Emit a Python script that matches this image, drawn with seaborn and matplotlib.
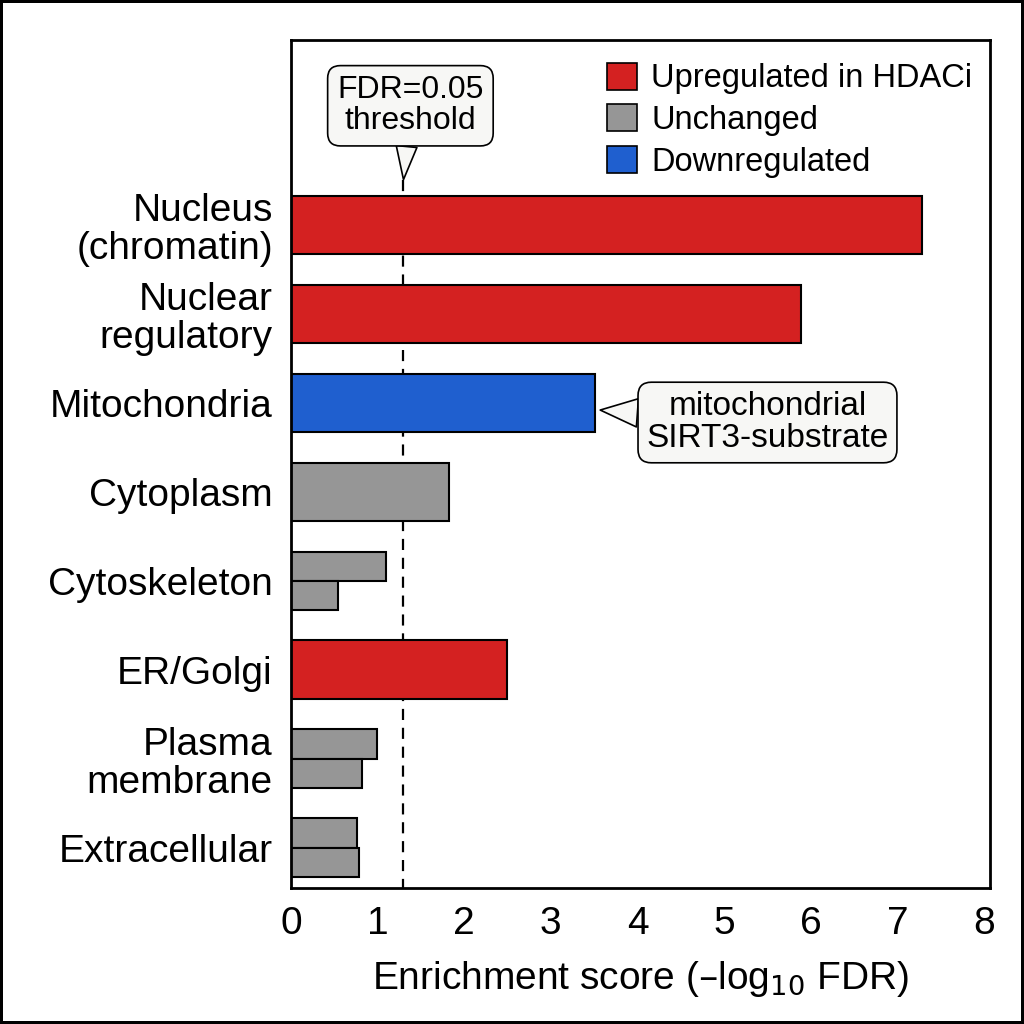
import matplotlib
matplotlib.use("Agg")
import matplotlib.pyplot as plt
from matplotlib.patches import Patch
import seaborn as sns
import pandas as pd

# categories top -> bottom
categories = ["Nucleus\n(chromatin)", "Nuclear\nregulatory", "Mitochondria", "Cytoplasm",
              "Cytoskeleton", "ER/Golgi", "Plasma\nmembrane", "Extracellular"]

# compartments with a single bar
single_cats = ["Nucleus\n(chromatin)", "Nuclear\nregulatory", "Mitochondria", "Cytoplasm", "ER/Golgi"]
single_vals = [7.28, 5.89, 3.51, 1.82, 2.49]
single_status = ["Upregulated in HDACi", "Upregulated in HDACi", "Downregulated", "Unchanged",
                 "Upregulated in HDACi"]

# compartments with two bars (both unchanged)
double_cats = ["Cytoskeleton", "Cytoskeleton", "Plasma\nmembrane", "Plasma\nmembrane",
               "Extracellular", "Extracellular"]
double_slot = ["a", "b", "a", "b", "a", "b"]
double_vals = [1.10, 0.55, 1.00, 0.82, 0.76, 0.79]

fdr_threshold = 1.30  # -log10(0.05)

status_colors = {"Upregulated in HDACi": "#d42121",
                 "Unchanged": "#969696",
                 "Downregulated": "#1f5fcf"}

sns.set_style("white", {"text.color": "black", "axes.labelcolor": "black",
                        "xtick.color": "black", "ytick.color": "black",
                        "axes.edgecolor": "black"})
plt.rcParams['font.family'] = ['Liberation Sans', 'DejaVu Sans']

fig = plt.figure(figsize=(10.24, 10.24), dpi=100, edgecolor="black", linewidth=3)
ax = fig.add_axes([0.284, 0.133, 0.683, 0.828])

df_single = pd.DataFrame({"cat": single_cats, "val": single_vals, "status": single_status})
df_double = pd.DataFrame({"cat": double_cats, "val": double_vals, "slot": double_slot})

sns.barplot(data=df_single, x="val", y="cat", hue="status", order=categories,
            palette=status_colors, dodge=False, width=0.66, edgecolor="black",
            linewidth=1.5, saturation=1, legend=False, ax=ax)
sns.barplot(data=df_double, x="val", y="cat", hue="slot", order=categories,
            palette=[status_colors["Unchanged"]] * 2, dodge=True, width=0.66,
            edgecolor="black", linewidth=1.5, saturation=1, legend=False, ax=ax)

ax.vlines(fdr_threshold, -0.51, 7.45, color="black", linestyle=(0, (5, 3.5)),
          linewidth=1.6, zorder=0.5)

ax.set_xlim(0, 8.07)
ax.set_ylim(7.45, -2.08)
ax.set_xticks(range(0, 9))
ax.set_xlabel("Enrichment score (\u2013log$_{10}$ FDR)", fontsize=28, labelpad=12)
ax.set_ylabel("")
ax.tick_params(axis="x", labelsize=28, length=8, width=1.6, direction="out", pad=5)
ax.tick_params(axis="y", labelsize=28, length=8, width=1.6, direction="out", pad=5)
ax.set_yticks(range(len(categories)))
ax.set_yticklabels(categories, linespacing=1.08)
for s in ax.spines.values():
    s.set_linewidth(2)
    s.set_color("black")
    s.set_visible(True)

box_fc = "#f7f7f5"

# threshold callout
ax.annotate("FDR=0.05\nthreshold", xy=(fdr_threshold, -0.51), xytext=(1.38, -1.34),
            ha="center", va="center", fontsize=23, linespacing=1.05,
            bbox=dict(boxstyle="round,pad=0.3,rounding_size=0.4", fc=box_fc, ec="black", lw=1.2),
            arrowprops=dict(arrowstyle="wedge,tail_width=0.65,shrink_factor=0.5",
                            mutation_scale=23, shrinkA=0, shrinkB=0,
                            fc=box_fc, ec="black", lw=1.2))

# mitochondria callout
ax.annotate("mitochondrial\nSIRT3-substrate", xy=(3.57, 2.08), xytext=(5.50, 2.22),
            ha="center", va="center", fontsize=24, linespacing=1.08,
            bbox=dict(boxstyle="round,pad=0.25,rounding_size=0.4", fc=box_fc, ec="black", lw=1.2),
            arrowprops=dict(arrowstyle="wedge,tail_width=0.85,shrink_factor=0.5",
                            mutation_scale=24, shrinkA=0, shrinkB=0,
                            fc=box_fc, ec="black", lw=1.2))

handles = [Patch(facecolor=status_colors[k], edgecolor="black", linewidth=1.2, label=k)
           for k in status_colors]
ax.legend(handles=handles, loc="upper right", bbox_to_anchor=(1.012, 1.004), frameon=False,
          fontsize=23.5, handlelength=0.9, handleheight=0.9, handletextpad=0.45,
          labelspacing=0.3, borderaxespad=0.4)

fig.savefig("out.png", dpi=100, edgecolor="black")
